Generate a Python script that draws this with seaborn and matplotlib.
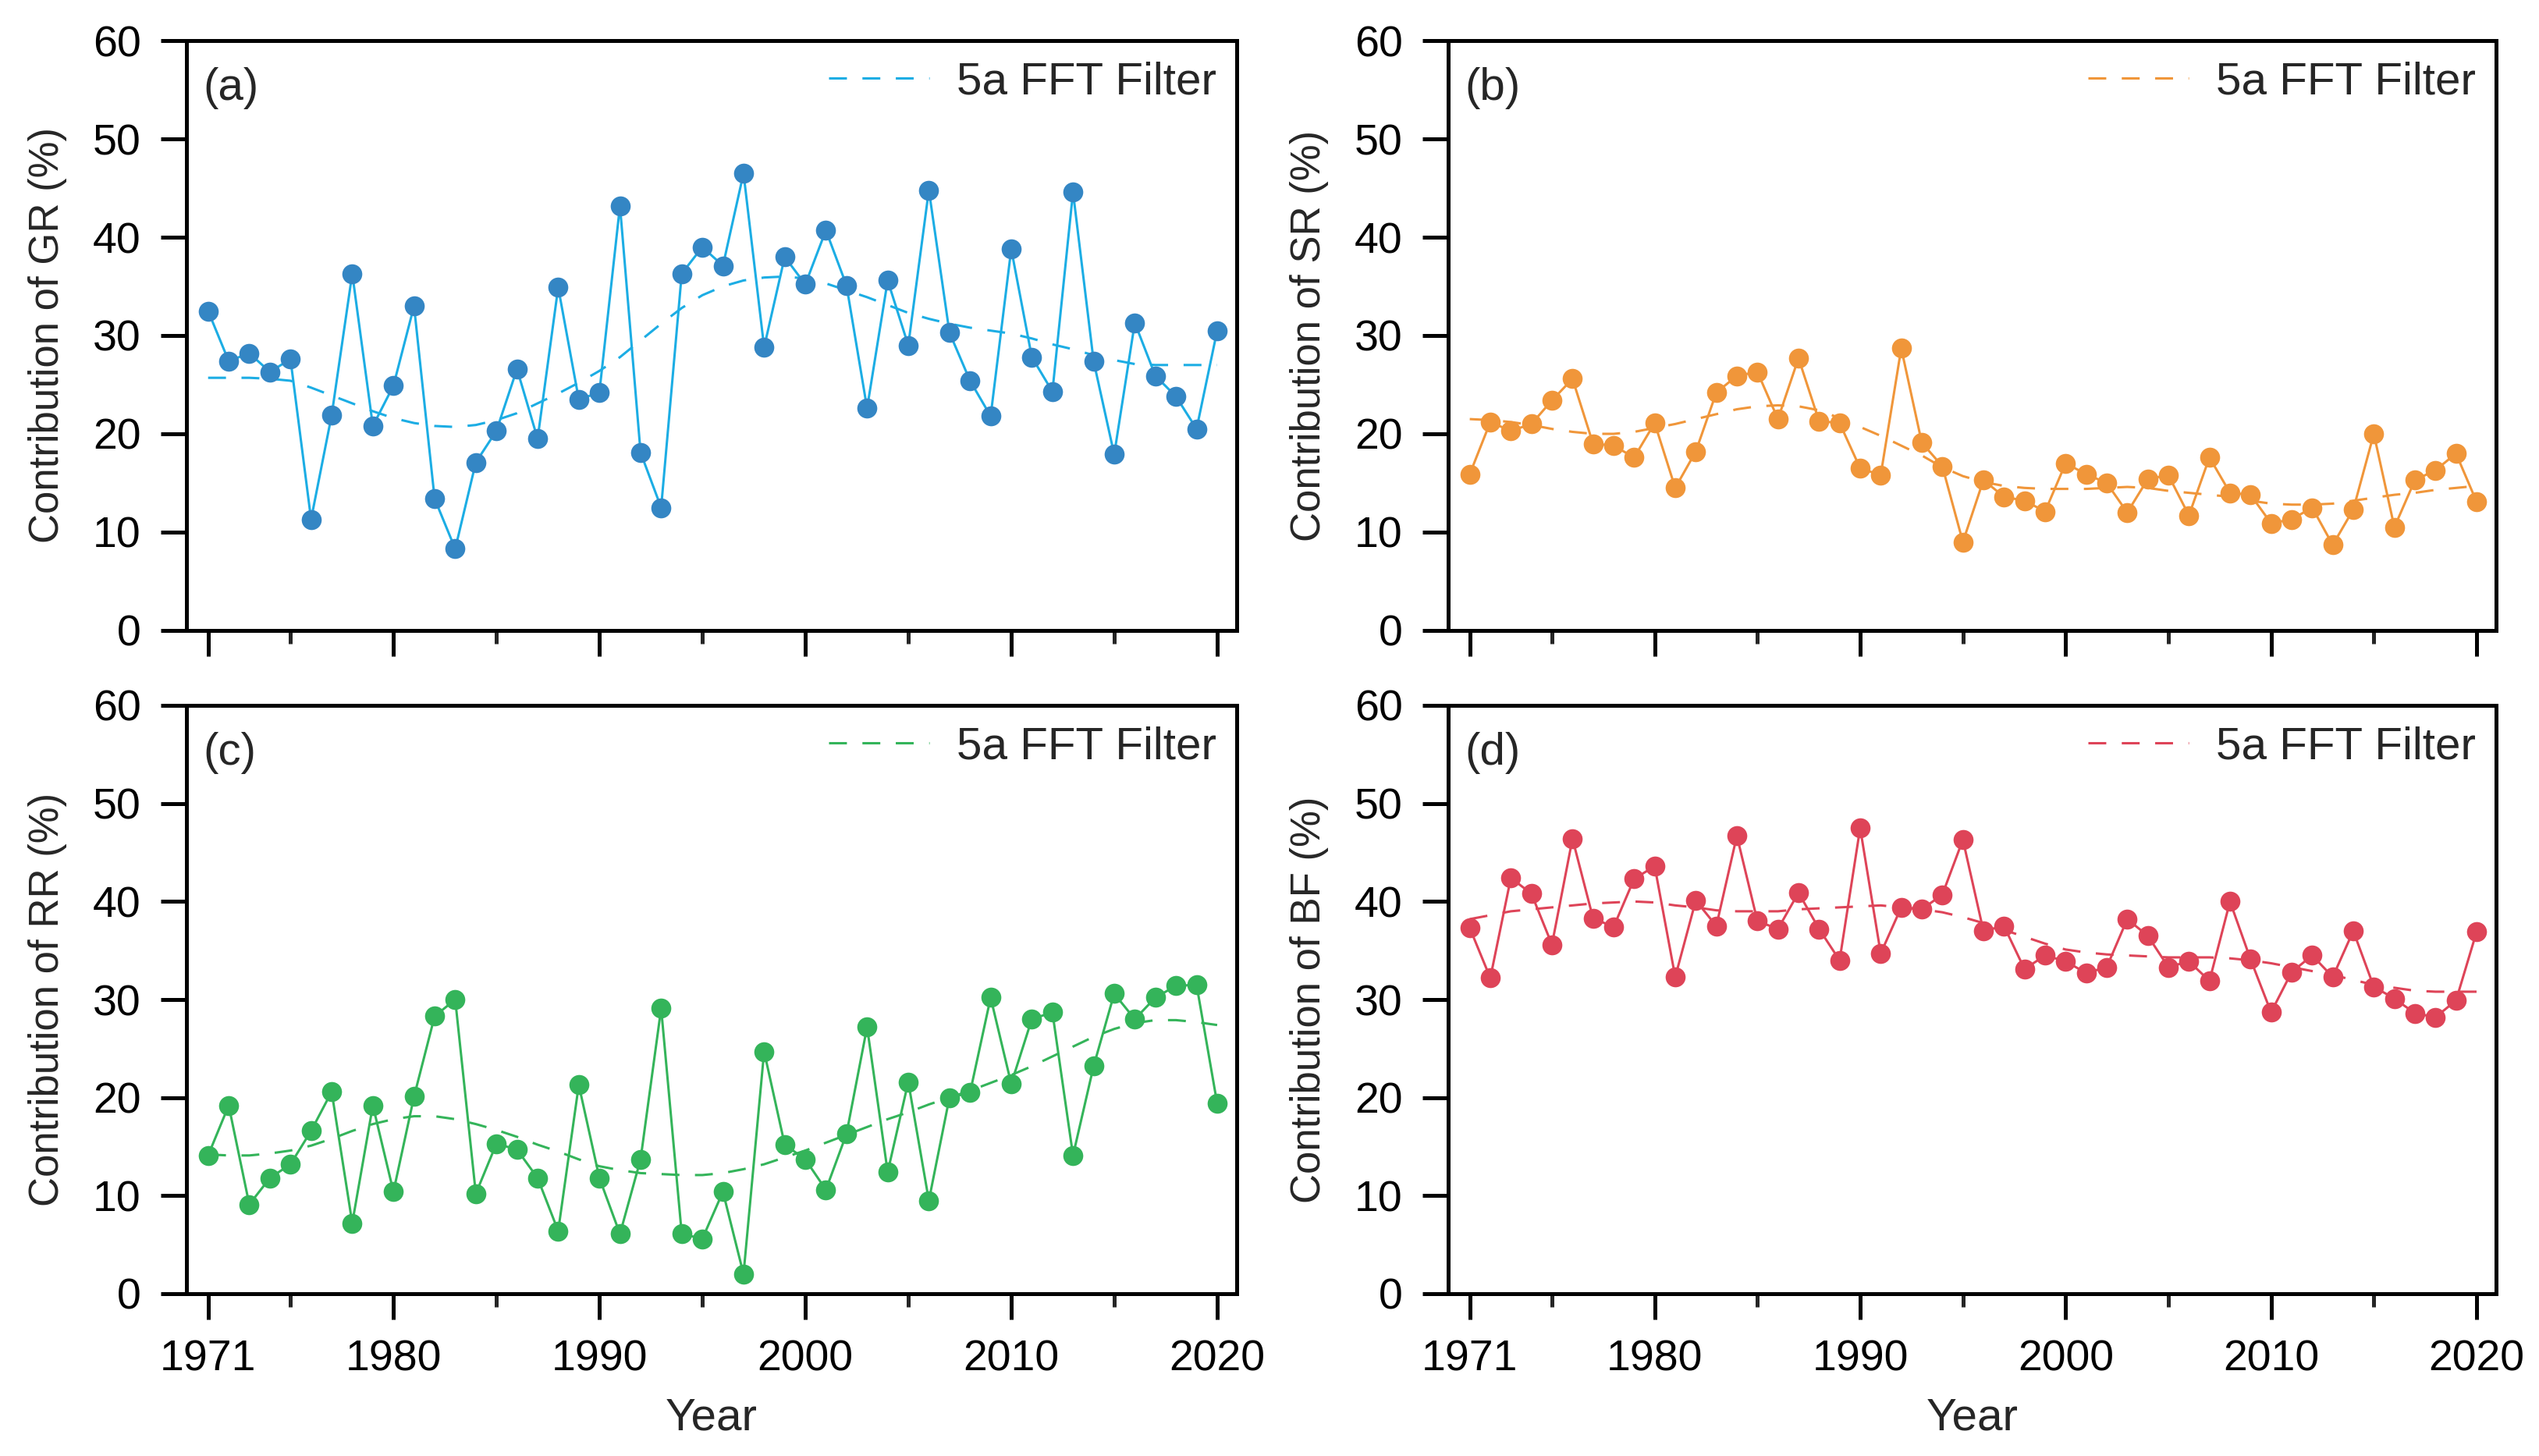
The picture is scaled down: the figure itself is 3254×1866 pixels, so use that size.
import numpy as np
import pandas as pd
import matplotlib
matplotlib.use("Agg")
import matplotlib.pyplot as plt
from matplotlib.ticker import FixedLocator
import seaborn as sns

years = list(range(1971, 2021))

gr = [32.5, 27.4, 28.2, 26.3, 27.6, 11.3, 21.9, 36.3, 20.8, 24.9,
      33.0, 13.4, 8.3, 17.1, 20.3, 26.6, 19.5, 34.9, 23.5, 24.2,
      43.2, 18.1, 12.5, 36.3, 39.0, 37.1, 46.5, 28.8, 38.0, 35.2,
      40.7, 35.1, 22.6, 35.6, 29.0, 44.8, 30.3, 25.4, 21.8, 38.8,
      27.8, 24.3, 44.6, 27.4, 17.9, 31.3, 25.9, 23.8, 20.5, 30.5]
gr_fft = [25.7, 25.7, 25.7, 25.6, 25.4, 24.7, 23.9, 23.1, 22.3, 21.6,
          21.1, 20.8, 20.7, 20.9, 21.4, 22.1, 23.1, 24.1, 25.2, 26.4,
          27.8, 29.5, 31.2, 32.8, 34.1, 35.0, 35.6, 35.9, 36.0, 35.8,
          35.3, 34.6, 33.9, 33.1, 32.3, 31.7, 31.2, 30.8, 30.5, 30.2,
          29.7, 29.1, 28.6, 28.0, 27.5, 27.1, 27.0, 27.0, 27.0, 27.0]

sr = [15.9, 21.2, 20.3, 21.0, 23.4, 25.6, 19.0, 18.8, 17.6, 21.1,
      14.5, 18.2, 24.2, 25.9, 26.3, 21.5, 27.7, 21.3, 21.1, 16.5,
      15.8, 28.7, 19.1, 16.7, 9.0, 15.3, 13.6, 13.2, 12.1, 17.0,
      15.9, 15.0, 12.0, 15.4, 15.8, 11.7, 17.6, 14.0, 13.8, 10.9,
      11.3, 12.5, 8.7, 12.3, 20.0, 10.5, 15.3, 16.3, 18.0, 13.1]
sr_fft = [21.5, 21.4, 21.2, 20.9, 20.5, 20.2, 20.0, 20.0, 20.2, 20.6,
          21.0, 21.5, 22.0, 22.5, 22.8, 22.9, 22.8, 22.4, 21.6, 20.7,
          19.8, 18.8, 17.8, 16.6, 15.7, 15.1, 14.7, 14.5, 14.4, 14.4,
          14.4, 14.5, 14.6, 14.5, 14.2, 14.0, 13.8, 13.6, 13.2, 12.9,
          12.8, 12.8, 12.9, 13.2, 13.5, 13.8, 14.0, 14.3, 14.5, 14.7]

rr = [14.1, 19.2, 9.1, 11.8, 13.2, 16.6, 20.6, 7.2, 19.2, 10.4,
      20.1, 28.3, 30.0, 10.2, 15.3, 14.7, 11.8, 6.4, 21.3, 11.8,
      6.1, 13.7, 29.1, 6.1, 5.6, 10.4, 2.0, 24.7, 15.2, 13.7,
      10.6, 16.3, 27.2, 12.4, 21.6, 9.5, 20.0, 20.5, 30.2, 21.4,
      28.0, 28.7, 14.1, 23.2, 30.6, 28.0, 30.2, 31.4, 31.5, 19.4]
rr_fft = [14.2, 14.1, 14.1, 14.3, 14.6, 15.1, 15.8, 16.6, 17.3, 17.8,
          18.1, 18.1, 17.8, 17.3, 16.7, 16.0, 15.2, 14.5, 13.7, 13.0,
          12.6, 12.3, 12.2, 12.1, 12.1, 12.3, 12.7, 13.2, 13.9, 14.6,
          15.4, 16.2, 17.0, 17.8, 18.5, 19.3, 20.0, 20.7, 21.5, 22.3,
          23.2, 24.2, 25.2, 26.2, 27.0, 27.6, 27.9, 27.9, 27.7, 27.4]

bf = [37.3, 32.2, 42.4, 40.8, 35.6, 46.4, 38.3, 37.4, 42.3, 43.6,
      32.3, 40.1, 37.5, 46.7, 38.0, 37.2, 40.9, 37.2, 34.0, 47.5,
      34.7, 39.4, 39.2, 40.7, 46.3, 37.0, 37.5, 33.1, 34.5, 33.9,
      32.7, 33.3, 38.2, 36.5, 33.3, 33.9, 31.9, 40.0, 34.1, 28.7,
      32.8, 34.5, 32.3, 37.0, 31.3, 30.1, 28.6, 28.2, 29.9, 36.9]
bf_fft = [38.2, 38.6, 39.0, 39.2, 39.4, 39.6, 39.8, 39.9, 40.0, 39.9,
          39.6, 39.4, 39.1, 39.0, 39.0, 39.0, 39.2, 39.3, 39.4, 39.5,
          39.6, 39.4, 39.2, 38.9, 38.4, 37.8, 37.1, 36.4, 35.7, 35.1,
          34.8, 34.6, 34.5, 34.4, 34.3, 34.3, 34.3, 34.2, 34.0, 33.7,
          33.3, 32.9, 32.5, 32.0, 31.5, 31.2, 30.9, 30.8, 30.8, 30.8]

panels = ["(a)", "(b)", "(c)", "(d)"]
names = ["GR", "SR", "RR", "BF"]
series = [gr, sr, rr, bf]
filters = [gr_fft, sr_fft, rr_fft, bf_fft]
line_colors = ["#1CADE4", "#F0963A", "#34B45A", "#DE4458"]
marker_colors = ["#3486C4", "#F0963A", "#34B45A", "#DE4458"]
legend_label = "5a FFT Filter"
major_xticks = [1971, 1980, 1990, 2000, 2010, 2020]
minor_xticks = [1975, 1985, 1995, 2005, 2015]
yticks = [0, 10, 20, 30, 40, 50, 60]

sns.set_theme(style="ticks")
plt.rcParams["font.family"] = ["Liberation Sans", "DejaVu Sans"]
plt.rcParams["axes.linewidth"] = 1.8

fig = plt.figure(figsize=(16.275, 9.33), dpi=200)
W, H = 3255, 1866
boxes = [
    (239, 52, 1585, 808),
    (1856, 52, 3199, 808),
    (239, 904, 1585, 1658),
    (1856, 904, 3199, 1658),
]

for i in range(4):
    l, t, r, b = boxes[i]
    ax = fig.add_axes([l / W, 1 - b / H, (r - l) / W, (b - t) / H])
    df = pd.DataFrame({"Year": years, "val": series[i], "fft": filters[i]})
    sns.lineplot(data=df, x="Year", y="fft", ax=ax, color=line_colors[i],
                 lw=1.1, linestyle=(0, (7.5, 6.5)), label=legend_label, zorder=2)
    sns.lineplot(data=df, x="Year", y="val", ax=ax, color=line_colors[i],
                 lw=1.1, zorder=3, legend=False)
    sns.scatterplot(data=df, x="Year", y="val", ax=ax, color=marker_colors[i],
                    s=85, linewidth=0, zorder=4, legend=False)
    ax.set_xlim(1969.95, 2020.95)
    ax.set_ylim(0, 60)
    ax.xaxis.set_major_locator(FixedLocator(major_xticks))
    ax.xaxis.set_minor_locator(FixedLocator(minor_xticks))
    ax.yaxis.set_major_locator(FixedLocator(yticks))
    ax.tick_params(axis="both", which="major", direction="out", length=12,
                   width=1.8, labelsize=20, pad=9, colors="black")
    ax.tick_params(axis="x", which="minor", direction="out", length=6,
                   width=1.8)
    for sp in ax.spines.values():
        sp.set_visible(True)
        sp.set_linewidth(1.8)
        sp.set_color("black")
    ax.set_ylabel(f"Contribution of {names[i]} (%)", fontsize=19, labelpad=12)
    if i >= 2:
        ax.set_xlabel("Year", fontsize=21, labelpad=8)
    else:
        ax.set_xlabel("")
        ax.tick_params(axis="x", which="major", labelbottom=False)
    ax.text(0.016, 0.919, panels[i], transform=ax.transAxes, fontsize=21,
            ha="left", va="center")
    ax.legend(loc="upper right", frameon=False, fontsize=21,
              handlelength=2.2, handletextpad=0.6,
              borderaxespad=0.05, bbox_to_anchor=(1.0, 1.0))

fig.savefig("out.png", dpi=200, facecolor="white")
